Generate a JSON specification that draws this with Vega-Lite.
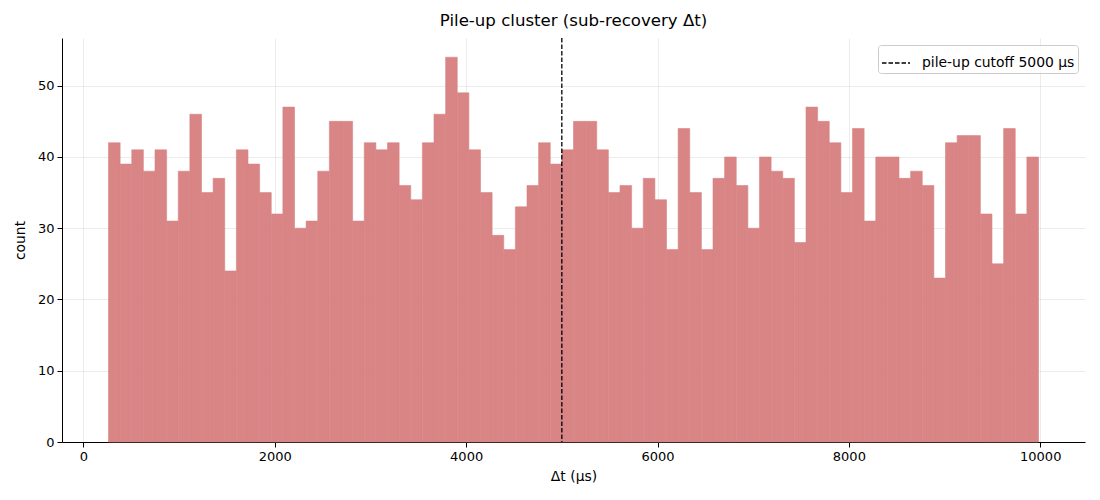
{
  "$schema": "https://vega.github.io/schema/vega-lite/v6.json",
  "width": 1023,
  "height": 404,
  "autosize": {"type": "none"},
  "padding": {"left": 62, "top": 38, "right": 15, "bottom": 58},
  "background": "white",
  "title": {"text": "Pile-up cluster (sub-recovery Δt)", "fontSize": 16.6, "fontWeight": "normal", "font": "DejaVu Sans", "color": "black", "offset": 8, "anchor": "middle"},
  "config": {
    "font": "DejaVu Sans",
    "view": {"stroke": null},
    "axis": {"labelFontSize": 13, "titleFontSize": 13.9, "titleFontWeight": "normal", "labelColor": "black", "titleColor": "black", "domainColor": "black", "tickColor": "black", "tickSize": 5, "labelPadding": 3, "gridColor": "#b0b0b0", "gridOpacity": 0.3, "gridWidth": 0.8, "zindex": 1, "domainWidth": 1}
  },
  "layer": [
    {
      "data": {"values": [
        {"start": 262, "end": 383.5, "count": 42},
        {"start": 383.5, "end": 505, "count": 39},
        {"start": 505, "end": 626.5, "count": 41},
        {"start": 626.5, "end": 748, "count": 38},
        {"start": 748, "end": 869.5, "count": 41},
        {"start": 869.5, "end": 991, "count": 31},
        {"start": 991, "end": 1112.5, "count": 38},
        {"start": 1112.5, "end": 1234, "count": 46},
        {"start": 1234, "end": 1355.5, "count": 35},
        {"start": 1355.5, "end": 1477, "count": 37},
        {"start": 1477, "end": 1598.5, "count": 24},
        {"start": 1598.5, "end": 1720, "count": 41},
        {"start": 1720, "end": 1841.5, "count": 39},
        {"start": 1841.5, "end": 1963, "count": 35},
        {"start": 1963, "end": 2084.5, "count": 32},
        {"start": 2084.5, "end": 2206, "count": 47},
        {"start": 2206, "end": 2327.5, "count": 30},
        {"start": 2327.5, "end": 2449, "count": 31},
        {"start": 2449, "end": 2570.5, "count": 38},
        {"start": 2570.5, "end": 2692, "count": 45},
        {"start": 2692, "end": 2813.5, "count": 45},
        {"start": 2813.5, "end": 2935, "count": 31},
        {"start": 2935, "end": 3056.5, "count": 42},
        {"start": 3056.5, "end": 3178, "count": 41},
        {"start": 3178, "end": 3299.5, "count": 42},
        {"start": 3299.5, "end": 3421, "count": 36},
        {"start": 3421, "end": 3542.5, "count": 34},
        {"start": 3542.5, "end": 3664, "count": 42},
        {"start": 3664, "end": 3785.5, "count": 46},
        {"start": 3785.5, "end": 3907, "count": 54},
        {"start": 3907, "end": 4028.5, "count": 49},
        {"start": 4028.5, "end": 4150, "count": 41},
        {"start": 4150, "end": 4271.5, "count": 35},
        {"start": 4271.5, "end": 4393, "count": 29},
        {"start": 4393, "end": 4514.5, "count": 27},
        {"start": 4514.5, "end": 4636, "count": 33},
        {"start": 4636, "end": 4757.5, "count": 36},
        {"start": 4757.5, "end": 4879, "count": 42},
        {"start": 4879, "end": 5000.5, "count": 39},
        {"start": 5000.5, "end": 5122, "count": 41},
        {"start": 5122, "end": 5243.5, "count": 45},
        {"start": 5243.5, "end": 5365, "count": 45},
        {"start": 5365, "end": 5486.5, "count": 41},
        {"start": 5486.5, "end": 5608, "count": 35},
        {"start": 5608, "end": 5729.5, "count": 36},
        {"start": 5729.5, "end": 5851, "count": 30},
        {"start": 5851, "end": 5972.5, "count": 37},
        {"start": 5972.5, "end": 6094, "count": 34},
        {"start": 6094, "end": 6215.5, "count": 27},
        {"start": 6215.5, "end": 6337, "count": 44},
        {"start": 6337, "end": 6458.5, "count": 35},
        {"start": 6458.5, "end": 6580, "count": 27},
        {"start": 6580, "end": 6701.5, "count": 37},
        {"start": 6701.5, "end": 6823, "count": 40},
        {"start": 6823, "end": 6944.5, "count": 36},
        {"start": 6944.5, "end": 7066, "count": 30},
        {"start": 7066, "end": 7187.5, "count": 40},
        {"start": 7187.5, "end": 7309, "count": 38},
        {"start": 7309, "end": 7430.5, "count": 37},
        {"start": 7430.5, "end": 7552, "count": 28},
        {"start": 7552, "end": 7673.5, "count": 47},
        {"start": 7673.5, "end": 7795, "count": 45},
        {"start": 7795, "end": 7916.5, "count": 42},
        {"start": 7916.5, "end": 8038, "count": 35},
        {"start": 8038, "end": 8159.5, "count": 44},
        {"start": 8159.5, "end": 8281, "count": 31},
        {"start": 8281, "end": 8402.5, "count": 40},
        {"start": 8402.5, "end": 8524, "count": 40},
        {"start": 8524, "end": 8645.5, "count": 37},
        {"start": 8645.5, "end": 8767, "count": 38},
        {"start": 8767, "end": 8888.5, "count": 36},
        {"start": 8888.5, "end": 9010, "count": 23},
        {"start": 9010, "end": 9131.5, "count": 42},
        {"start": 9131.5, "end": 9253, "count": 43},
        {"start": 9253, "end": 9374.5, "count": 43},
        {"start": 9374.5, "end": 9496, "count": 32},
        {"start": 9496, "end": 9617.5, "count": 25},
        {"start": 9617.5, "end": 9739, "count": 44},
        {"start": 9739, "end": 9860.5, "count": 32},
        {"start": 9860.5, "end": 9982, "count": 40}
      ]},
      "mark": {"type": "bar", "color": "#d98585", "opacity": 1, "stroke": "#d98585", "strokeWidth": 0.6},
      "encoding": {
        "x": {"field": "start", "type": "quantitative", "scale": {"domain": [-224, 10468], "nice": false, "zero": false}, "axis": {"values": [0, 2000, 4000, 6000, 8000, 10000], "format": "d", "title": "Δt (μs)", "grid": true, "titlePadding": 6}},
        "x2": {"field": "end"},
        "y": {"field": "count", "type": "quantitative", "scale": {"domain": [0, 56.7], "nice": false}, "axis": {"values": [0, 10, 20, 30, 40, 50], "title": "count", "grid": true, "titlePadding": 10}},
        "y2": {"datum": 0}
      }
    },
    {
      "data": {"values": [{"cutoff": 5000, "label": "pile-up cutoff 5000 μs"}]},
      "mark": {"type": "rule", "strokeDash": [4.5, 2], "strokeWidth": 1.3},
      "encoding": {
        "x": {"field": "cutoff", "type": "quantitative"},
        "color": {"field": "label", "type": "nominal", "scale": {"range": ["black"]},
          "legend": {"title": null, "orient": "top-right", "offset": 7, "padding": 3, "fillColor": "rgba(255,255,255,0.8)", "strokeColor": "#cccccc", "cornerRadius": 3, "symbolType": "stroke", "symbolSize": 784, "symbolStrokeWidth": 1.3, "symbolDash": [4.5, 2], "labelFontSize": 13.9, "labelColor": "black", "labelOffset": 11}}
      }
    }
  ]
}
